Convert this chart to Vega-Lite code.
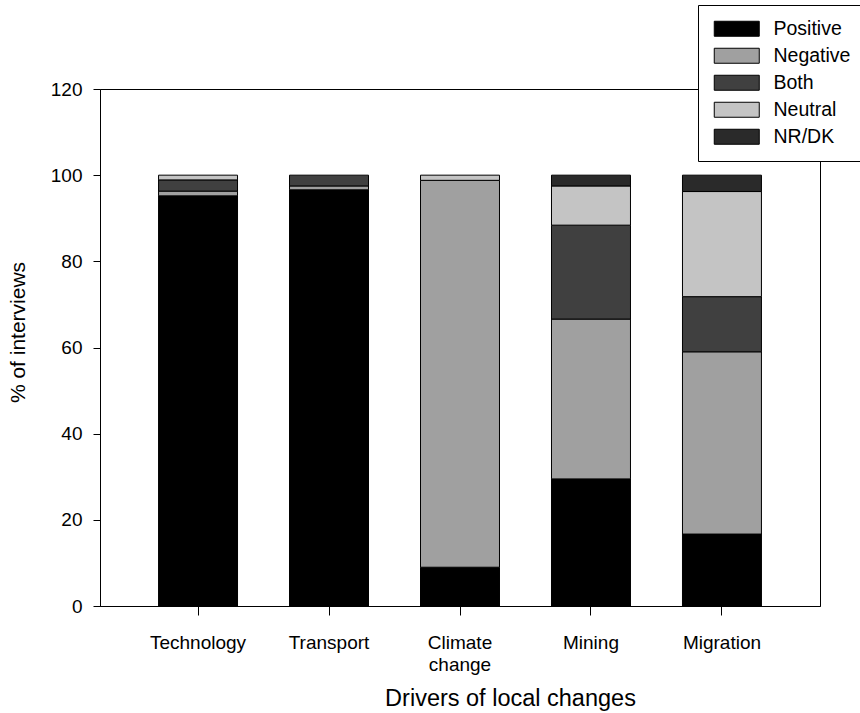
{
  "$schema": "https://vega.github.io/schema/vega-lite/v6.json",
  "width": 720,
  "height": 517,
  "autosize": {"type": "none"},
  "padding": {"left": 100, "top": 89, "right": 40, "bottom": 107},
  "background": "white",
  "config": {
    "font": "Liberation Sans",
    "view": {"stroke": "black", "strokeWidth": 1},
    "axis": {"grid": false, "domainColor": "black", "tickColor": "black", "labelColor": "black", "titleColor": "black", "labelFont": "Liberation Sans", "titleFont": "Liberation Sans", "titleFontWeight": "normal"}
  },
  "data": {
    "values": [
      {"driver": "Technology", "response": "Positive", "k": 1, "pct": 95.2},
      {"driver": "Technology", "response": "Negative", "k": 2, "pct": 1.1},
      {"driver": "Technology", "response": "Both", "k": 3, "pct": 2.6},
      {"driver": "Technology", "response": "Neutral", "k": 4, "pct": 1.1},
      {"driver": "Transport", "response": "Positive", "k": 1, "pct": 96.6},
      {"driver": "Transport", "response": "Negative", "k": 2, "pct": 0.9},
      {"driver": "Transport", "response": "Both", "k": 3, "pct": 2.5},
      {"driver": "Climate change", "response": "Positive", "k": 1, "pct": 9.0},
      {"driver": "Climate change", "response": "Negative", "k": 2, "pct": 89.8},
      {"driver": "Climate change", "response": "Neutral", "k": 4, "pct": 1.2},
      {"driver": "Mining", "response": "Positive", "k": 1, "pct": 29.5},
      {"driver": "Mining", "response": "Negative", "k": 2, "pct": 37.1},
      {"driver": "Mining", "response": "Both", "k": 3, "pct": 21.8},
      {"driver": "Mining", "response": "Neutral", "k": 4, "pct": 9.1},
      {"driver": "Mining", "response": "NR/DK", "k": 5, "pct": 2.5},
      {"driver": "Migration", "response": "Positive", "k": 1, "pct": 16.7},
      {"driver": "Migration", "response": "Negative", "k": 2, "pct": 42.3},
      {"driver": "Migration", "response": "Both", "k": 3, "pct": 12.8},
      {"driver": "Migration", "response": "Neutral", "k": 4, "pct": 24.4},
      {"driver": "Migration", "response": "NR/DK", "k": 5, "pct": 3.8}
    ]
  },
  "mark": {"type": "bar", "stroke": "black", "strokeWidth": 1, "opacity": 1},
  "encoding": {
    "x": {
      "field": "driver",
      "type": "nominal",
      "sort": ["Technology", "Transport", "Climate change", "Mining", "Migration"],
      "scale": {"paddingInner": 0.397, "paddingOuter": 0.447},
      "axis": {
        "title": "Drivers of local changes",
        "titleFontSize": 23.5,
        "titleX": 410,
        "titleY": 99,
        "titleBaseline": "alphabetic",
        "titleAnchor": null,
        "labelAngle": 0,
        "labelFontSize": 19,
        "labelBaseline": "top",
        "labelLineHeight": 22,
        "labelPadding": 18,
        "tickSize": 9,
        "labelExpr": "datum.value == 'Climate change' ? ['Climate', 'change'] : datum.value"
      }
    },
    "y": {
      "field": "pct",
      "type": "quantitative",
      "stack": "zero",
      "scale": {"domain": [0, 120], "nice": false},
      "axis": {
        "title": "% of interviews",
        "titleFontSize": 21,
        "titleAngle": 270,
        "titleX": -82,
        "titleY": 243,
        "titleAlign": "center",
        "titleBaseline": "middle",
        "values": [0, 20, 40, 60, 80, 100, 120],
        "labelFontSize": 19,
        "labelPadding": 11,
        "tickSize": 7
      }
    },
    "order": {"field": "k", "type": "quantitative"},
    "color": {
      "field": "response",
      "type": "nominal",
      "scale": {
        "domain": ["Positive", "Negative", "Both", "Neutral", "NR/DK"],
        "range": ["#000000", "#a0a0a0", "#404040", "#c4c4c4", "#2a2a2a"]
      },
      "legend": {
        "title": null,
        "orient": "none",
        "legendX": 598,
        "legendY": -84,
        "padding": 14,
        "fillColor": "white",
        "strokeColor": "black",
        "symbolType": "M-1,-1H5V1H-1Z",
        "symbolSize": 225,
        "symbolStrokeColor": "black",
        "symbolStrokeWidth": 1,
        "symbolOpacity": 1,
        "labelFontSize": 19.5,
        "labelFont": "Liberation Sans",
        "labelColor": "black",
        "labelOffset": 42,
        "rowPadding": 6,
        "labelLimit": 200
      }
    }
  }
}
